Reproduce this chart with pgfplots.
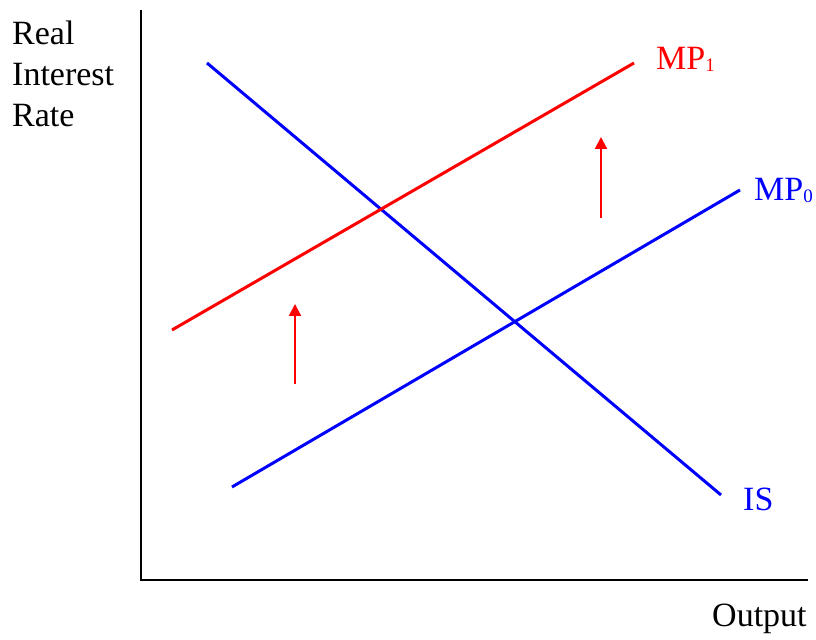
\documentclass[border=0pt]{standalone}
\usepackage{pgfplots}
\pgfplotsset{compat=1.18}
\usepackage{fontspec}
\setmainfont{Liberation Serif}
\usetikzlibrary{arrows.meta}
\definecolor{pblue}{RGB}{0,0,255}
\definecolor{pred}{RGB}{255,0,0}
\newcommand{\bigtxt}{\fontsize{34bp}{40bp}\selectfont}
\newcommand{\subtxt}[1]{\raisebox{-2bp}{\fontsize{19bp}{22bp}\selectfont #1}}
\begin{document}
\begin{tikzpicture}
\begin{axis}[width=816bp,height=640bp,scale only axis,
  xmin=0,xmax=816,ymin=0,ymax=640,hide axis,clip=false]
\path (rel axis cs:0,0) rectangle (rel axis cs:1,1);
% axes
\addplot[black,line width=2.5bp,line join=miter] coordinates {(141,630) (141,60) (808,60)};
% IS
\addplot[pblue,line width=3bp] coordinates {(207,577) (721,145)};
% MP0
\addplot[pblue,line width=3bp] coordinates {(232,153) (740,450)};
% MP1
\addplot[pred,line width=3bp] coordinates {(172,310) (634,577)};
% arrows
\addplot[pred,line width=2bp,-{Triangle[length=12bp,width=12bp]}] coordinates {(295,256) (295,336)};
\addplot[pred,line width=2bp,-{Triangle[length=12bp,width=12bp]}] coordinates {(601,422) (601,503)};
% labels
\node[anchor=base west,inner sep=0,text=pred] at (axis cs:656,570) {\bigtxt MP\subtxt{1}};
\node[anchor=base west,inner sep=0,text=pblue] at (axis cs:754,439) {\bigtxt MP\subtxt{0}};
\node[anchor=base west,inner sep=0,text=pblue] at (axis cs:743,129) {\bigtxt IS};
\node[anchor=base west,inner sep=0] at (axis cs:712,13) {\bigtxt Output};
\node[anchor=base west,inner sep=0] at (axis cs:12,595) {\bigtxt Real};
\node[anchor=base west,inner sep=0] at (axis cs:12,554) {\bigtxt Interest};
\node[anchor=base west,inner sep=0] at (axis cs:12,513) {\bigtxt Rate};
\end{axis}
\end{tikzpicture}
\end{document}
